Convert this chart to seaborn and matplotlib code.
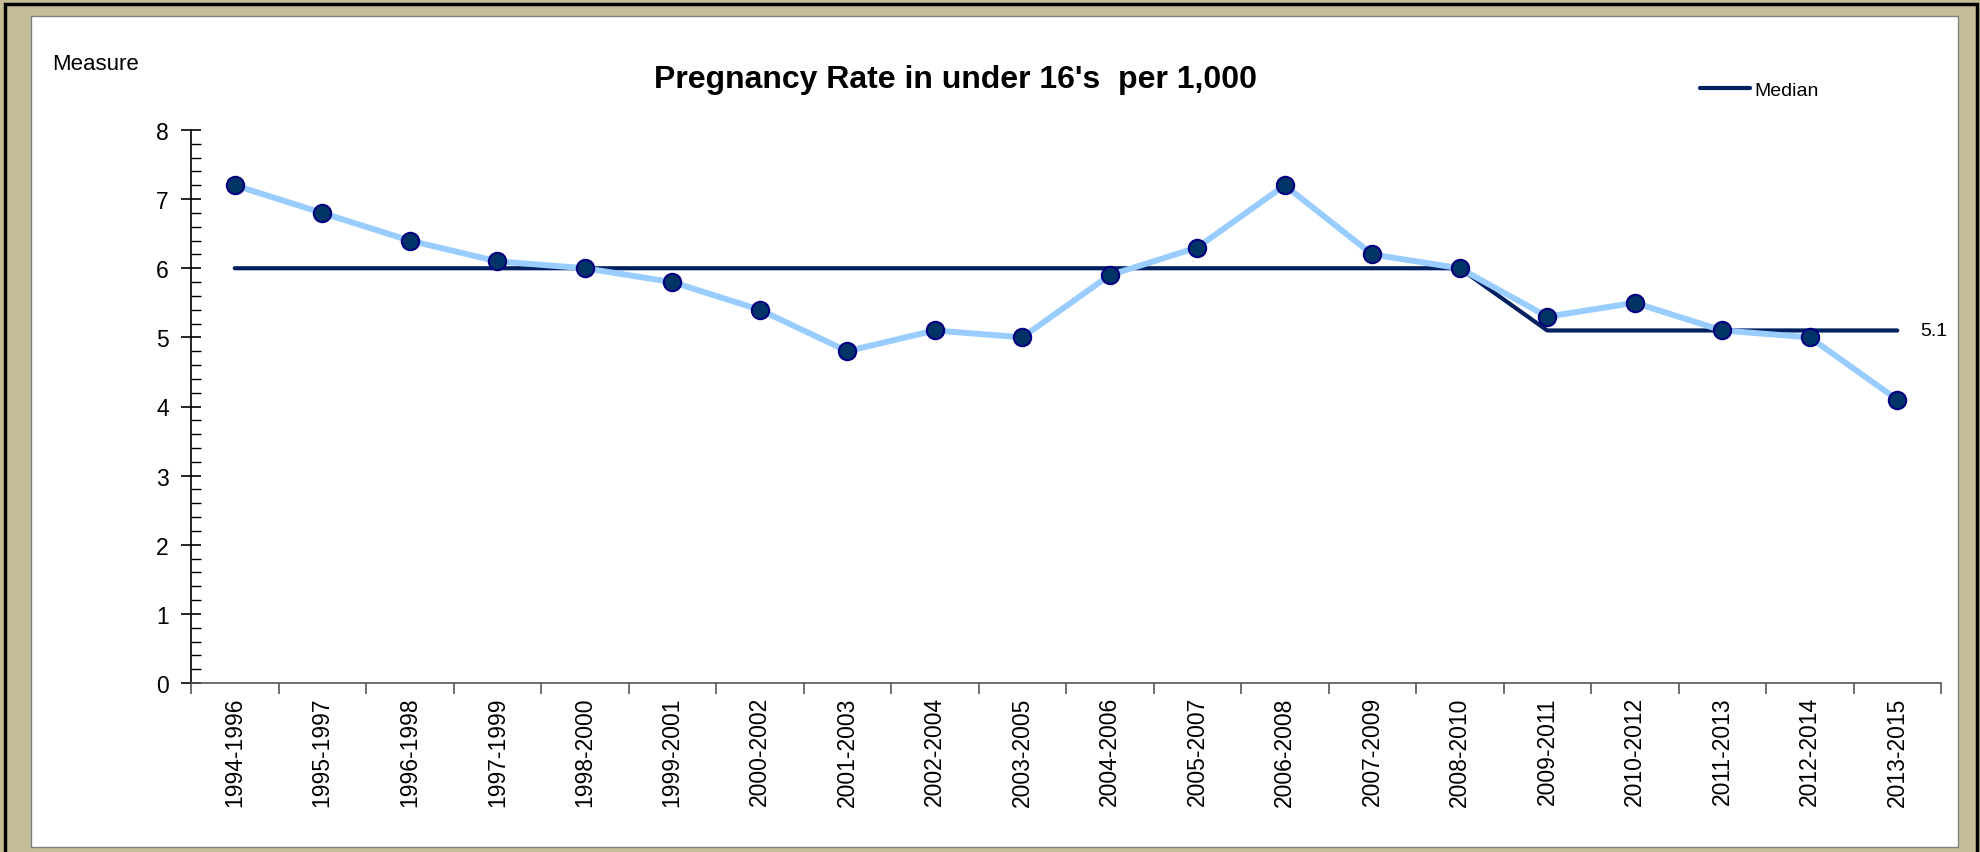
import numpy as np
import pandas as pd
import seaborn as sns
import matplotlib.pyplot as plt
from matplotlib.patches import Rectangle
from matplotlib.ticker import MultipleLocator, FixedLocator

periods = ['1994-1996', '1995-1997', '1996-1998', '1997-1999', '1998-2000',
           '1999-2001', '2000-2002', '2001-2003', '2002-2004', '2003-2005',
           '2004-2006', '2005-2007', '2006-2008', '2007-2009', '2008-2010',
           '2009-2011', '2010-2012', '2011-2013', '2012-2014', '2013-2015']
rate = [7.2, 6.8, 6.4, 6.1, 6.0, 5.8, 5.4, 4.8, 5.1, 5.0,
        5.9, 6.3, 7.2, 6.2, 6.0, 5.3, 5.5, 5.1, 5.0, 4.1]
median = [6.0] * 15 + [5.1] * 5

sns.set_style('white')
plt.rcParams['font.family'] = ['Liberation Sans', 'DejaVu Sans']
plt.rcParams['text.color'] = 'black'
plt.rcParams['xtick.color'] = 'black'
plt.rcParams['ytick.color'] = 'black'

df = pd.DataFrame({'pos': np.arange(len(periods)), 'period': periods,
                   'rate': rate, 'median': median})

fig = plt.figure(figsize=(19.8, 8.53), dpi=100)
fig.patch.set_facecolor('#C4BD97')

# outer black frame and white panel (behind the axes)
W, H = 1980, 853
fig.patches.append(Rectangle((5 / W, -0.01), 1972 / W, (H - 5) / H + 0.01,
                             transform=fig.transFigure, fill=False,
                             edgecolor='black', linewidth=2.5, zorder=-2))
fig.patches.append(Rectangle((31 / W, (H - 848) / H), (1958 - 31) / W, (848 - 17) / H,
                             transform=fig.transFigure, facecolor='white',
                             edgecolor='#808080', linewidth=1, zorder=-1))

ax = fig.add_axes([191 / W, 169 / H, (1941 - 191) / W, (684 - 131) / H])
ax.set_facecolor('none')

sns.lineplot(data=df, x='pos', y='rate', ax=ax, color='#99CCFF', linewidth=4.3,
             marker='o', markersize=12.5, markerfacecolor='#003366',
             markeredgecolor='#000080', markeredgewidth=1.5, zorder=3)
sns.lineplot(data=df, x='pos', y='median', ax=ax, color='#002060', linewidth=3,
             label='Median', zorder=2)

ax.set_xlim(-0.5, len(periods) - 0.5)
ax.set_ylim(0, 8)
ax.set_xlabel('')
ax.set_ylabel('')

ax.set_xticks(df['pos'])
ax.set_xticklabels(periods, rotation=90, fontsize=16.5)
ax.xaxis.set_minor_locator(FixedLocator(np.arange(-0.5, len(periods), 1)))
ax.tick_params(axis='x', which='major', length=0, pad=9.5)
ax.tick_params(axis='x', which='minor', length=8, width=1.2, direction='out',
               color='#555555', bottom=True)

ax.yaxis.set_major_locator(MultipleLocator(1))
ax.yaxis.set_minor_locator(MultipleLocator(0.2))
ax.tick_params(axis='y', which='major', length=14, width=1.2, direction='inout',
               labelsize=16.5, left=True, pad=9)
ax.tick_params(axis='y', which='minor', length=7, width=1, direction='in', left=True)

for side in ['top', 'right']:
    ax.spines[side].set_visible(False)
ax.spines['left'].set_color('black')
ax.spines['bottom'].set_color('#555555')
ax.spines['left'].set_linewidth(1.2)
ax.spines['bottom'].set_linewidth(1.2)

ax.text(len(periods) - 1 + 0.26, median[-1], f'{median[-1]}', fontsize=14,
        va='center', ha='left', clip_on=False)

fig.text(956 / W, 1 - 80 / H, "Pregnancy Rate in under 16's  per 1,000",
         fontsize=23, fontweight='bold', ha='center', va='center')
fig.text(52 / W, 1 - 65 / H, 'Measure', fontsize=16, ha='left', va='center')

leg = ax.legend(loc='center left', bbox_to_anchor=(1690 / W, 1 - 91 / H),
                bbox_transform=fig.transFigure, frameon=False, fontsize=14,
                handlelength=2.6, handletextpad=0.2, borderpad=0)

fig.savefig('out.png', dpi=100, facecolor=fig.get_facecolor())
